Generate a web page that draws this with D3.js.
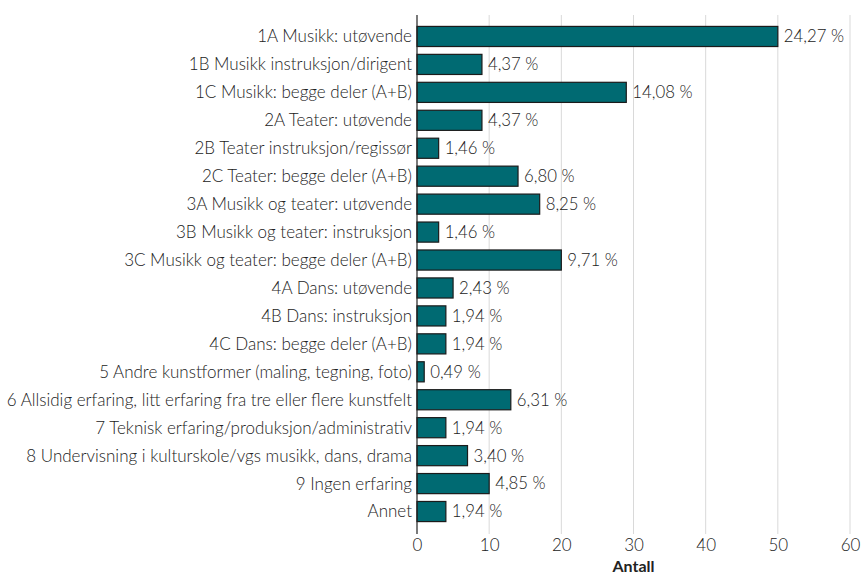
<!DOCTYPE html>
<html>
<head>
<meta charset="utf-8">
<script src="https://cdn.jsdelivr.net/npm/d3@7"></script>
<style>
  body { margin: 0; background: #fff; }
  svg text { font-family: Lato, "Open Sans", sans-serif; fill: #222; font-weight: 300; }
</style>
</head>
<body>
<svg id="chart" width="861" height="581"></svg>
<script>
// categories and counts
const categories = [
  '1A Musikk: utøvende',
  '1B Musikk instruksjon/dirigent',
  '1C Musikk: begge deler (A+B)',
  '2A Teater: utøvende',
  '2B Teater instruksjon/regissør',
  '2C Teater: begge deler (A+B)',
  '3A Musikk og teater: utøvende',
  '3B Musikk og teater: instruksjon',
  '3C Musikk og teater: begge deler (A+B)',
  '4A Dans: utøvende',
  '4B Dans: instruksjon',
  '4C Dans: begge deler (A+B)',
  '5 Andre kunstformer (maling, tegning, foto)',
  '6 Allsidig erfaring, litt erfaring fra tre eller flere kunstfelt',
  '7 Teknisk erfaring/produksjon/administrativ',
  '8 Undervisning i kulturskole/vgs musikk, dans, drama',
  '9 Ingen erfaring',
  'Annet'
];
const counts = [50, 9, 29, 9, 3, 14, 17, 3, 20, 5, 4, 4, 1, 13, 4, 7, 10, 4];
const percentLabels = ['24,27 %', '4,37 %', '14,08 %', '4,37 %', '1,46 %', '6,80 %', '8,25 %',
  '1,46 %', '9,71 %', '2,43 %', '1,94 %', '1,94 %', '0,49 %', '6,31 %', '1,94 %', '3,40 %',
  '4,85 %', '1,94 %'];
const xTicks = [0, 10, 20, 30, 40, 50, 60];

const svg = d3.select('#chart');
const plotLeft = 417, plotRight = 850, plotTop = 15, plotBottom = 534;

const x = d3.scaleLinear().domain([0, 60]).range([plotLeft, plotRight]);
const y = d3.scaleBand().domain(categories).range([22.5, 525.5]).paddingInner(0.28).paddingOuter(0.14);

// grid lines
svg.append('g')
  .selectAll('line')
  .data(xTicks.slice(1))
  .join('line')
  .attr('x1', d => x(d)).attr('x2', d => x(d))
  .attr('y1', plotTop).attr('y2', plotBottom)
  .style('stroke', '#d9d9d9')
  .style('stroke-width', 1);

// bars
const rows = categories.map((c, i) => ({cat: c, n: counts[i], label: percentLabels[i]}));
svg.append('g')
  .selectAll('rect')
  .data(rows)
  .join('rect')
  .attr('x', x(0))
  .attr('y', d => y(d.cat))
  .attr('width', d => x(d.n) - x(0))
  .attr('height', y.bandwidth())
  .style('fill', '#006a72')
  .style('stroke', '#1b1b1b')
  .style('stroke-width', 1.2);

// value labels
svg.append('g')
  .selectAll('text')
  .data(rows)
  .join('text')
  .attr('x', d => x(d.n) + 6)
  .attr('y', d => y(d.cat) + y.bandwidth() / 2)
  .attr('dy', '0.35em')
  .style('font-size', '16.8px')
  .text(d => d.label);

// category labels
svg.append('g')
  .selectAll('text')
  .data(categories)
  .join('text')
  .attr('x', plotLeft - 5)
  .attr('y', d => y(d) + y.bandwidth() / 2)
  .attr('dy', '0.35em')
  .attr('text-anchor', 'end')
  .style('font-size', '17px')
  .text(d => d);

// y axis line
svg.append('line')
  .attr('x1', x(0)).attr('x2', x(0))
  .attr('y1', plotTop).attr('y2', plotBottom)
  .style('stroke', '#222')
  .style('stroke-width', 1.2);

// x axis tick labels
const xAxis = d3.axisBottom(x).tickValues(xTicks).tickSize(0).tickPadding(0);
const gx = svg.append('g')
  .attr('transform', `translate(0, ${plotBottom + 5})`)
  .call(xAxis);
gx.select('.domain').remove();
gx.selectAll('text')
  .style('font-family', 'Lato, "Open Sans", sans-serif')
  .style('font-weight', '300')
  .style('font-size', '17px')
  .style('fill', '#222');

svg.append('text')
  .attr('x', x(30))
  .attr('y', 572)
  .attr('text-anchor', 'middle')
  .style('font-size', '16px')
  .style('font-weight', 'bold')
  .text('Antall');
</script>
</body>
</html>
